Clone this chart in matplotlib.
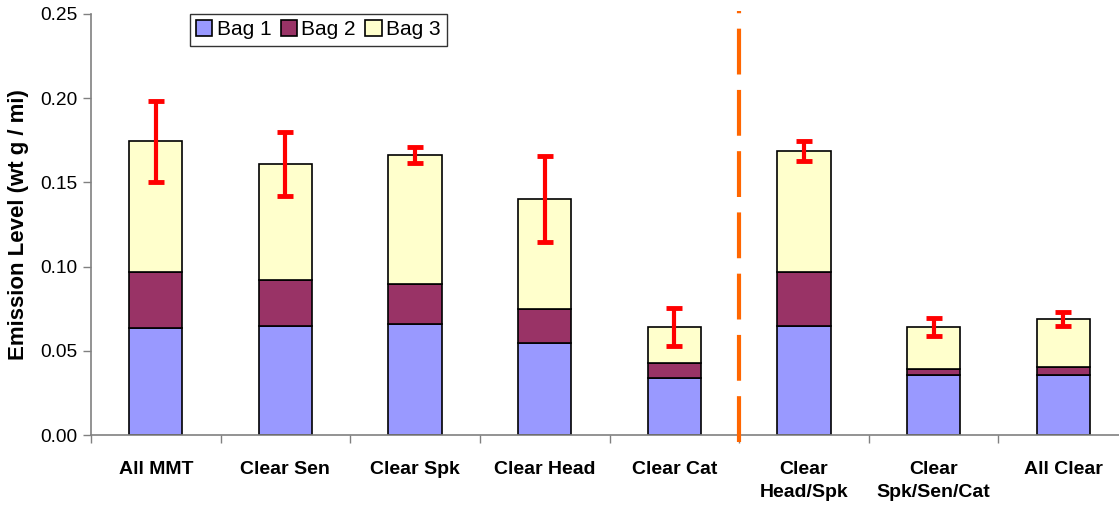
import numpy as np
import matplotlib.pyplot as plt

plt.rcParams['font.family'] = ['Liberation Sans', 'DejaVu Sans']

# Data
categories = ['All MMT', 'Clear Sen', 'Clear Spk', 'Clear Head', 'Clear Cat',
              'Clear\nHead/Spk', 'Clear\nSpk/Sen/Cat', 'All Clear']
bag1 = [0.0637, 0.0647, 0.0659, 0.0546, 0.0338, 0.0647, 0.0358, 0.0358]
bag2 = [0.0331, 0.0273, 0.0238, 0.0202, 0.0090, 0.0321, 0.0036, 0.0045]
bag3 = [0.0775, 0.0690, 0.0766, 0.0652, 0.0213, 0.0718, 0.0249, 0.0286]
errors = [0.0240, 0.0190, 0.0045, 0.0255, 0.0113, 0.0060, 0.0053, 0.0040]
divider_after = 5  # dashed line between Clear Cat and Clear Head/Spk

fig = plt.figure(figsize=(11.19, 5.07), dpi=100)
ax = fig.add_axes([91 / 1119, 1 - 435 / 507, 1037 / 1119, 421 / 507])

x = np.arange(len(categories))
b1 = np.array(bag1)
b2 = np.array(bag2)
b3 = np.array(bag3)
total = b1 + b2 + b3
w = 0.41

ax.bar(x, b1, w, color='#9999FF', edgecolor='black', linewidth=1.2, label='Bag 1', zorder=2)
ax.bar(x, b2, w, bottom=b1, color='#993366', edgecolor='black', linewidth=1.2, label='Bag 2', zorder=2)
ax.bar(x, b3, w, bottom=b1 + b2, color='#FFFFCC', edgecolor='black', linewidth=1.2, label='Bag 3', zorder=2)

ax.errorbar(x, total, yerr=errors, fmt='none', ecolor='#FF0000', elinewidth=3,
            capsize=5.5, capthick=3.5, zorder=3)

ax.set_xlim(-0.5, len(categories) - 0.5)
ax.set_ylim(0, 0.25)
ax.set_yticks(np.arange(0, 0.251, 0.05))
ax.set_yticklabels([f'{v:.2f}' for v in np.arange(0, 0.251, 0.05)], fontsize=13.8)

ax.set_xticks(x)
ax.set_xticklabels(categories, fontsize=14, fontweight='bold', va='top', linespacing=1.4)
ax.tick_params(axis='x', which='major', length=0, pad=19)
ax.set_xticks(np.arange(-0.5, len(categories), 1.0), minor=True)
ax.tick_params(axis='x', which='minor', length=6, color='#808080', width=1)
ax.tick_params(axis='y', length=6, color='#808080', width=1, pad=4)

for s in ['top', 'right']:
    ax.spines[s].set_visible(False)
for s in ['left', 'bottom']:
    ax.spines[s].set_color('#808080')
    ax.spines[s].set_linewidth(1.2)

ax.set_ylabel('Emission Level (wt g / mi)', fontsize=16, fontweight='bold', labelpad=8)

ax.plot([divider_after - 0.5] * 2, [-0.004, 0.2515], color='#FF6600', linewidth=3,
        linestyle=(0, (11, 3.7)), clip_on=False, zorder=4)

leg = ax.legend(loc='upper left', bbox_to_anchor=(0.095, 1.0), ncol=3, fontsize=15,
                frameon=True, fancybox=False, edgecolor='black', handlelength=0.8,
                handleheight=0.8, handletextpad=0.2, columnspacing=0.45,
                borderpad=0.3, borderaxespad=0.0)
leg.get_frame().set_linewidth(1.0)

plt.savefig('out.png', dpi=100)
